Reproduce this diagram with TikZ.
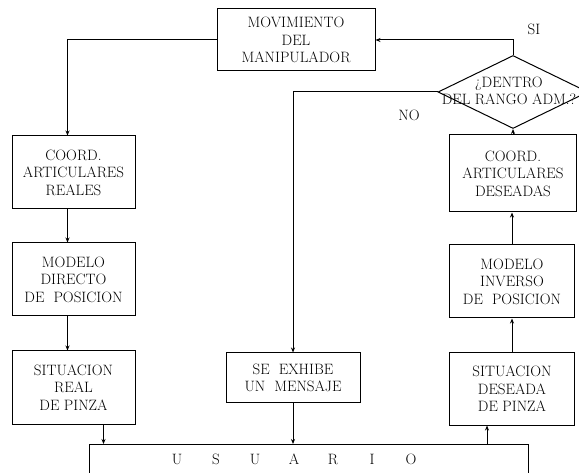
\documentclass[tikz,border=0pt]{standalone}
\usepackage{tikz}
\usetikzlibrary{arrows.meta,shapes.geometric}

\tikzset{
  caja/.style={draw,align=center,inner sep=2pt},
  flecha/.style={-{Stealth[length=5pt,width=4pt]}},
}

\begin{document}
\begin{tikzpicture}[x=1pt,y=-1pt,line width=1pt,font=\fontsize{15}{17.5}\selectfont]
  \useasboundingbox (0,0) rectangle (579,473);

  % top: movement and range check
  \node[caja,minimum width=158pt,minimum height=62pt] (mov) at (296,40) {MOVIMIENTO\\DEL\\MANIPULADOR};
  \node[draw,diamond,minimum width=150pt,minimum height=73pt,inner sep=0pt] (rango) at (513,92) {};
  \node[align=center] (rangotxt) at (509,91) {¿DENTRO\\DEL RANGO ADM.?};
  \node (si) at (534,29) {SI};
  \node (no) at (409,115) {NO};

  % left column: real
  \node[caja,minimum width=123pt,minimum height=73pt] (creales) at (73.5,172.5) {COORD.\\ARTICULARES\\REALES};
  \node[caja,minimum width=123pt,minimum height=73pt] (directo) at (73.5,279.5) {MODELO\\DIRECTO\\DE\ \ POSICION};
  \node[caja,minimum width=123pt,minimum height=73pt] (sitreal) at (73.5,387.5) {SITUACION\\REAL\\DE PINZA};

  % middle: message
  \node[caja,minimum width=134pt,minimum height=50pt] (exhibe) at (293,378) {SE\ \ EXHIBE\\UN\ \ MENSAJE};

  % right column: desired
  \node[caja,minimum width=127pt,minimum height=77pt] (cdeseadas) at (513,173.5) {COORD.\\ARTICULARES\\DESEADAS};
  \node[caja,minimum width=125pt,minimum height=73pt] (inverso) at (512,281.5) {MODELO\\INVERSO\\DE\ \ POSICION};
  \node[caja,minimum width=125pt,minimum height=72pt] (sitdes) at (512,389) {SITUACION\\DESEADA\\DE PINZA};

  % bottom: user
  \node[draw,minimum width=439pt,minimum height=70pt,anchor=north] (usuario) at (308.5,444) {};
  \foreach \l [count=\i] in {U,S,U,A,R,I,O} {
    \node (u\i) at (177+39*\i-39,459) {\l};
  }

  % connectors
  \draw[flecha] (mov.west) -| ([xshift=-6pt]creales.north);
  \draw[flecha] ([xshift=-6pt]creales.south) -- ([xshift=-6pt]directo.north);
  \draw[flecha] ([xshift=-6pt]directo.south) -- ([xshift=-6pt]sitreal.north);
  \draw[flecha] ([xshift=30pt]sitreal.south) -- ([xshift=30pt]sitreal.south |- usuario.north);
  \draw[flecha] (rango.north) |- (mov.east);
  \draw[flecha] (rango.west) -| (exhibe.north);
  \draw[flecha] (exhibe.south) -- (exhibe.south |- usuario.north);
  \draw[flecha] ([xshift=-25pt]sitdes.south |- usuario.north) -- ([xshift=-25pt]sitdes.south);
  \draw[flecha] (sitdes.north) -- (inverso.south);
  \draw[flecha] (inverso.north) -- (inverso.north |- cdeseadas.south);
  \draw[flecha] (cdeseadas.north) -- (rango.south);
\end{tikzpicture}
\end{document}
